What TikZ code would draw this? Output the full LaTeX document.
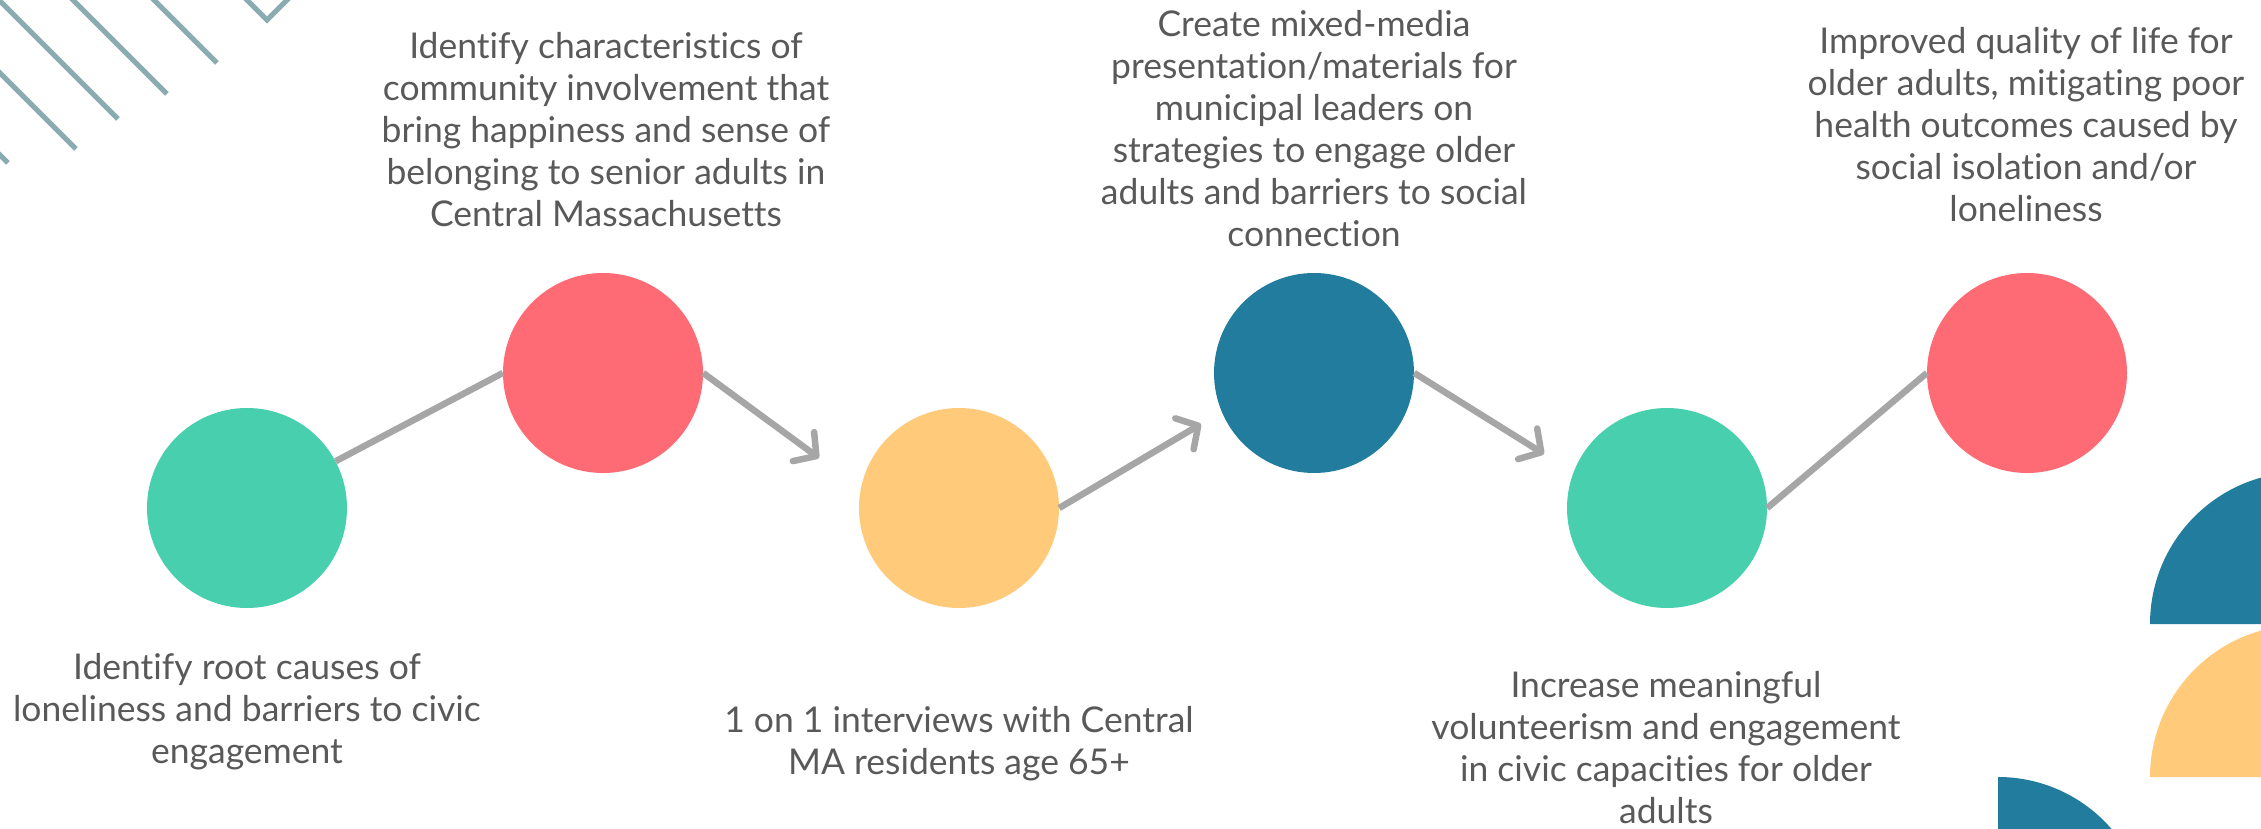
\documentclass[tikz,border=0pt]{standalone}
\usepackage{fontspec}
\setmainfont[Ligatures=NoCommon]{Lato}
\definecolor{step teal}{HTML}{48CFAE}
\definecolor{step red}{HTML}{FF6B75}
\definecolor{step yellow}{HTML}{FFCA7A}
\definecolor{step blue}{HTML}{227C9D}
\definecolor{link grey}{HTML}{A6A6A6}
\definecolor{stripe grey}{HTML}{8AABB0}
\definecolor{label grey}{HTML}{595959}
\usetikzlibrary{calc,positioning,arrows.meta}
\tikzstyle{line} = [line width=6.5pt, draw=link grey]
\tikzstyle{line>} = [line,-{Straight Barb[length=16pt, width=36pt, round]}]
\tikzstyle{stage node}=[circle, minimum size=200pt, inner sep=0pt]
\tikzstyle{goal text}=[align=center, text=label grey, font=\fontsize{35.5}{42}\selectfont]
\tikzstyle{stripe}=[line width=5pt, draw=stripe grey]

\begin{document}
\begin{tikzpicture}[x=1pt,y=1pt]
        \useasboundingbox (0,0) rectangle (2261,828);
        \begin{scope}
            \clip (0,0) rectangle (2261,828);
            \foreach \x/\y in {217/765,167/734,118/709,76/679,8/665}
                \draw[stripe] (\x,\y) -- ++(-200,200);
            \draw[stripe, line join=miter] (237,838) -- (267,808) -- (297,838);
            \fill[step blue] (2150,204) arc[start angle=180, end angle=0, radius=152] -- cycle;
            \fill[step yellow] (2150,51) arc[start angle=180, end angle=0, radius=152] -- cycle;
            \fill[step blue] (1998,51) arc[start angle=90, end angle=-90, radius=150] -- cycle;
        \end{scope}

        \node[stage node,fill=step teal] (root-causes) at (247,320) {};
        \node[stage node,fill=step red] (characteristics) at (603,455) {};
        \node[stage node,fill=step yellow] (interviews) at (959,320) {};
        \node[stage node,fill=step blue] (presentation) at (1314,455) {};
        \node[stage node,fill=step teal] (engagement) at (1667,320) {};
        \node[stage node,fill=step red] (quality) at (2027,455) {};

        \draw (root-causes) ++(0,-204) node[goal text] (root-causes-text) {Identify root causes of\\loneliness and barriers to civic\\engagement};
        \draw (characteristics) ++(3,243) node[goal text] (characteristics-text) {Identify characteristics of\\community involvement that\\bring happiness and sense of\\belonging to senior adults in\\Central Massachusetts};
        \draw (interviews) ++(0,-236) node[goal text] (interviews-text) {1 on 1 interviews with Central\\MA residents age 65+};
        \draw (presentation) ++(0,244) node[goal text] (presentation-text) {Create mixed-media\\presentation/materials for\\municipal leaders on\\strategies to engage older\\adults and barriers to social\\connection};
        \draw (engagement) ++(-1,-240) node[goal text] (engagement-text) {Increase meaningful\\volunteerism and engagement\\in civic capacities for older\\adults};
        \draw (quality) ++(-1,248) node[goal text] (quality-text) {Improved quality of life for\\older adults, mitigating poor\\health outcomes caused by\\social isolation and/or\\loneliness};

        \path (interviews) ++(-140,50) coordinate (interviews-in);
        \path (presentation) ++(-113,-51) coordinate (presentation-in);
        \path (engagement) ++(-123,54) coordinate (engagement-in);

        \draw[line] (root-causes) -- (characteristics.west);
        \draw[line>] (characteristics.east) -- (interviews-in);
        \draw[line>] (interviews.east) -- (presentation-in);
        \draw[line>] (presentation.east) -- (engagement-in);
        \draw[line] (engagement.east) -- (quality.west);

    \end{tikzpicture}
\end{document}
